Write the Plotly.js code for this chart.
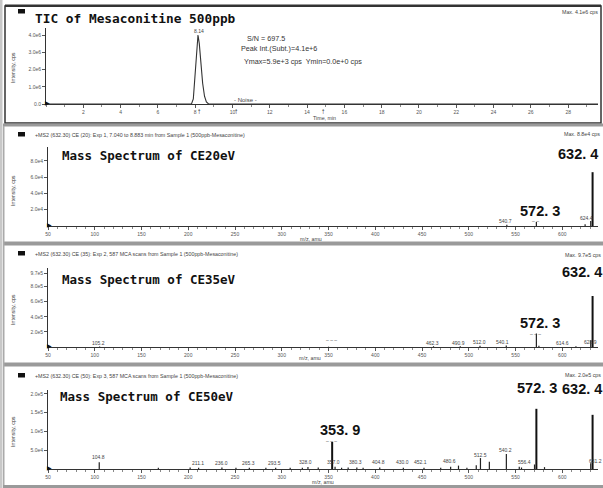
<!DOCTYPE html>
<html><head><meta charset="utf-8">
<script src="https://cdn.plot.ly/plotly-3.0.1.min.js"></script>
<style>html,body{margin:0;padding:0;background:#fff;}#chart{width:603px;height:488px;}</style>
</head><body><div id="chart"></div>
<script>
// ---------- DATA ----------
const ticTime = [0, 2, 4, 6, 7.5, 7.8, 7.9, 8.0, 8.08, 8.15, 8.22, 8.3, 8.4, 8.5, 8.6, 8.72, 9.0, 12, 16, 20, 24, 28, 29.6];
const ticIntensity = [0, 0, 0, 0, 0, 0, 0.3e6, 1.8e6, 3.4e6, 4.0e6, 3.5e6, 2.4e6, 1.2e6, 0.45e6, 0.12e6, 0, 0, 0, 0, 0, 0, 0, 0];
const ticXTicks = [2, 4, 6, 8, 10, 12, 14, 16, 18, 20, 22, 24, 26, 28];
const ticYTicks = [0, 1e6, 2e6, 3e6, 4e6];
const ticYLabels = ["0.0", "1.0e6", "2.0e6", "3.0e6", "4.0e6"];

const mz20 = [540.7, 572.3, 624.4, 630.4, 632.4];
const int20 = [1.5e3, 5e3, 2e3, 6e3, 6.6e4];
const y20Ticks = [2e4, 4e4, 6e4, 8e4];
const y20Labels = ["2.0e4", "4.0e4", "6.0e4", "8.0e4"];

const mz35 = [105.2, 350.0, 462.3, 490.9, 512.0, 540.1, 572.3, 575.0, 614.6, 630.4, 632.4];
const int35 = [5e3, 4e3, 1e4, 1e4, 1.5e4, 2e4, 1.8e5, 1.5e4, 1e4, 9e4, 6.75e5];
const y35Ticks = [2e5, 4e5, 6e5, 8e5, 9.7e5];
const y35Labels = ["2.0e5", "4.0e5", "6.0e5", "8.0e5", "9.7e5"];

const mz50 = [104.8, 168.0, 202.0, 211.1, 236.0, 251.0, 265.3, 283.0, 293.5, 309.0, 322.0, 328.0, 339.0, 353.9, 357.0, 364.0, 371.0, 380.3, 387.0, 404.8, 430.0, 452.1, 470.0, 480.6, 489.0, 498.0, 508.0, 512.5, 522.0, 540.2, 554.0, 556.4, 570.3, 572.3, 581.0, 630.4, 632.4];
const int50 = [1.8e4, 3e3, 4e3, 3e3, 4e3, 3e3, 3e3, 3e3, 3e3, 3e3, 3e3, 5e3, 4e3, 7.2e4, 6e3, 3e3, 4e3, 4e3, 3e3, 4e3, 3e3, 3e3, 3e3, 6e3, 9e3, 3e3, 1e4, 2.9e4, 1.9e4, 4.0e4, 6e3, 4e3, 1.2e4, 1.6e5, 5e3, 1.5e4, 1.44e5];
const y50Ticks = [5e4, 1e5, 1.5e5, 2e5];
const y50Labels = ["5.0e4", "1.0e5", "1.5e5", "2.0e5"];

const mzTicks = [50, 100, 150, 200, 250, 300, 350, 400, 450, 500, 550, 600];

// ---------- HELPERS ----------
const W = 603, H = 488;
const X = px => px / W;
const Y = py => 1 - py / H;

function sticks(mz, inten, keep) {
  const xs = [], ys = [];
  mz.forEach((m, i) => { if (keep(inten[i])) { xs.push(m, m, null); ys.push(0, inten[i], null); } });
  return {x: xs, y: ys};
}

const small = {family: "Liberation Sans, Arial, sans-serif", size: 5, color: "#555"};

function xAxisCfg(domain, range, anchor, tickvals, minorDtick, minorTick0) {
  return {
    domain: domain, range: range, anchor: anchor,
    tickmode: "array", tickvals: tickvals, ticktext: tickvals.map(String),
    ticks: "outside", ticklen: 3, tickcolor: "#555", tickwidth: 1,
    showline: true, linecolor: "#333", linewidth: 1,
    showgrid: false, zeroline: false, tickfont: small,
    minor: {tickmode: "linear", tick0: minorTick0, dtick: minorDtick, ticks: "outside", ticklen: 2, tickcolor: "#888"},
    fixedrange: true
  };
}
function yAxisCfg(domain, range, anchor, tickvals, ticktext) {
  return {
    domain: domain, range: range, anchor: anchor,
    tickmode: "array", tickvals: tickvals, ticktext: ticktext,
    ticks: "outside", ticklen: 3, tickcolor: "#555",
    showline: true, linecolor: "#333", linewidth: 1,
    showgrid: false, zeroline: false, tickfont: small,
    fixedrange: true
  };
}

// ---------- TRACES ----------
const traces = [
  {x: ticTime, y: ticIntensity, type: "scatter", mode: "lines", line: {color: "#333", width: 1.1}, xaxis: "x", yaxis: "y", hoverinfo: "skip"}
];
[[mz20, int20, 6.6e4, "2"], [mz35, int35, 6.75e5, "3"], [mz50, int50, 1.6e5, "4"]].forEach(s => {
  const thin = sticks(s[0], s[1], v => v < 0.3 * s[2]);
  const thick = sticks(s[0], s[1], v => v >= 0.3 * s[2]);
  traces.push({x: thin.x, y: thin.y, type: "scatter", mode: "lines", line: {color: "#222", width: 1.2}, xaxis: "x" + s[3], yaxis: "y" + s[3], hoverinfo: "skip"});
  traces.push({x: thick.x, y: thick.y, type: "scatter", mode: "lines", line: {color: "#111", width: 2}, xaxis: "x" + s[3], yaxis: "y" + s[3], hoverinfo: "skip"});
});

// ---------- ANNOTATIONS ----------
const anns = [];
function ann(text, px, py, o) {
  o = o || {};
  anns.push({text: text, xref: "paper", yref: "paper", x: X(px), y: Y(py), showarrow: false,
    xanchor: o.xa || "center", yanchor: o.ya || "middle", textangle: o.angle || 0,
    font: {family: o.family || "Liberation Sans, Arial, sans-serif", size: o.size || 5, color: o.color || "#444", weight: o.weight || "normal"}});
}
const mono = "DejaVu Sans Mono, monospace";
const boldSans = "Liberation Sans, Arial, sans-serif";

// Titles
ann("TIC of Mesaconitine 500ppb", 33, 19, {xa: "left", family: mono, size: 12.8, weight: "bold", color: "#111"});
ann("Mass Spectrum of CE20eV", 60, 155, {xa: "left", family: mono, size: 12.5, weight: "bold", color: "#111"});
ann("Mass Spectrum of CE35eV", 60, 279, {xa: "left", family: mono, size: 12.5, weight: "bold", color: "#111"});
ann("Mass Spectrum of CE50eV", 58, 396, {xa: "left", family: mono, size: 12.5, weight: "bold", color: "#111"});

// Headers
ann("+MS2 (632.30) CE (20): Exp 1, 7.040 to 8.883 min from Sample 1 (500ppb-Mesaconitine)", 33, 135, {xa: "left", size: 5.3, color: "#444"});
ann("+MS2 (632.30) CE (35): Exp 2, 587 MCA scans from Sample 1 (500ppb-Mesaconitine)", 33, 254, {xa: "left", size: 5.3, color: "#444"});
ann("+MS2 (632.30) CE (50): Exp 3, 587 MCA scans from Sample 1 (500ppb-Mesaconitine)", 33, 376, {xa: "left", size: 5.3, color: "#444"});

// Max labels
ann("Max. 4.1e6 cps", 560, 12, {xa: "left", size: 5.3});
ann("Max. 8.8e4 cps", 562, 134, {xa: "left", size: 5.3});
ann("Max. 9.7e5 cps", 563, 255, {xa: "left", size: 5.3});
ann("Max. 2.0e5 cps", 563, 375, {xa: "left", size: 5.3});

// Axis titles
[68, 191, 310, 432].forEach(cy => ann("Intensity, cps", 13, cy, {angle: -90, size: 5.3}));
ann("Time, min", 324, 118, {size: 5.3});
ann("m/z, amu", 311, 239, {size: 5.3});
ann("m/z, amu", 310, 358, {size: 5.3});
ann("m/z, amu", 323, 482, {size: 5.3});

// TIC panel texts
ann("S/N = 697.5", 245, 38, {xa: "left", size: 7.2, color: "#333"});
ann("Peak Int.(Subt.)=4.1e+6", 239, 49, {xa: "left", size: 7.2, color: "#333"});
ann("Ymax=5.9e+3 cps  Ymin=0.0e+0 cps", 242, 62, {xa: "left", size: 7.2, color: "#333"});
ann("- Noise -", 245, 100, {size: 6, color: "#444"});
ann("8.14", 199, 31, {size: 5});
[199, 236, 323].forEach(px => ann("↑", px, 111, {size: 8, weight: "bold", color: "#222"}));
// origin markers
[[47, 103], [49, 225], [49, 346], [49, 468]].forEach(p => ann("▶", p[0], p[1], {size: 6, color: "#111"}));

// Big peak labels
ann("632. 4", 578, 154, {family: boldSans, size: 14.5, weight: "bold", color: "#111"});
ann("572. 3", 540, 211, {family: boldSans, size: 14.5, weight: "bold", color: "#111"});
ann("632. 4", 582, 272, {family: boldSans, size: 14.5, weight: "bold", color: "#111"});
ann("572. 3", 540, 323, {family: boldSans, size: 14.5, weight: "bold", color: "#111"});
ann("572. 3", 537, 388, {family: boldSans, size: 14.5, weight: "bold", color: "#111"});
ann("632. 4", 582, 389, {family: boldSans, size: 14.5, weight: "bold", color: "#111"});
ann("353. 9", 340, 430, {family: boldSans, size: 14.5, weight: "bold", color: "#111"});

// small peak labels
const smallLabels = [
  ["540.7", 505, 221], ["624.4", 586, 218], ["– –", 535, 221],
  ["105.2", 98, 343], ["462.3", 433, 343], ["490.9", 458, 343], ["512.0", 479, 342], ["540.1", 502, 342], ["614.6", 562, 343], ["628.9", 590, 342], ["– – –", 535, 334], ["– – –", 331, 340],
  ["104.8", 98, 457], ["211.1", 198, 463], ["236.0", 221, 463], ["265.3", 248, 463], ["293.5", 274, 463], ["328.0", 305, 462], ["357.0", 333, 462], ["380.3", 355, 462], ["404.8", 378, 462], ["430.0", 402, 462], ["452.1", 420, 462], ["480.6", 449, 461], ["512.5", 480, 455], ["540.2", 505, 450], ["556.4", 524, 462], ["631.2", 595, 461], ["– – –", 331, 441]
];
smallLabels.forEach(l => ann(l[0], l[1], l[2], {size: 5, color: "#444"}));

// ---------- SHAPES (frames) ----------
const shapes = [];
function rect(x0, y0, x1, y1, fill, lineColor, lw) {
  shapes.push({type: "rect", xref: "paper", yref: "paper", x0: X(x0), x1: X(x1), y0: Y(y1), y1: Y(y0),
    fillcolor: fill || "rgba(0,0,0,0)", line: {color: lineColor || "rgba(0,0,0,0)", width: lw || 0}, layer: "below"});
}
rect(0, 0, 2.5, 488, "#c8c8c8");
rect(5, 6, 601, 123, null, "#333", 1.5);
rect(5, 4.5, 601, 7, "#333");
rect(3, 123.5, 603, 126.5, "#9a9a9a");
rect(3, 241.5, 603, 245.5, "#9a9a9a");
rect(3, 362.5, 603, 366.5, "#9a9a9a");
rect(3, 485, 603, 488, "#9a9a9a");
rect(3, 126, 4.5, 485, "#aaa");
[[18, 9], [18, 132], [18, 251], [18, 373]].forEach(p => rect(p[0], p[1], p[0] + 7, p[1] + 4.5, "#111"));

// ---------- LAYOUT ----------
const specX = [X(48), X(598)];
const specRange = [50, 638.2];
const layout = {
  width: W, height: H, margin: {l: 0, r: 0, t: 0, b: 0},
  paper_bgcolor: "#fff", plot_bgcolor: "rgba(0,0,0,0)", showlegend: false,
  xaxis: xAxisCfg([X(46), X(598)], [0, 29.6], "y", ticXTicks, 1, 0),
  yaxis: yAxisCfg([Y(104), Y(28)], [0, 4.406e6], "x", ticYTicks, ticYLabels),
  xaxis2: xAxisCfg(specX, specRange, "y2", mzTicks, 10, 50),
  yaxis2: yAxisCfg([Y(226), Y(147)], [0, 9.69e4], "x2", y20Ticks, y20Labels),
  xaxis3: xAxisCfg(specX, specRange, "y3", mzTicks, 10, 50),
  yaxis3: yAxisCfg([Y(347), Y(268)], [0, 1.046e6], "x3", y35Ticks, y35Labels),
  xaxis4: xAxisCfg(specX, specRange, "y4", mzTicks, 10, 50),
  yaxis4: yAxisCfg([Y(469), Y(390)], [0, 2.1e5], "x4", y50Ticks, y50Labels),
  annotations: anns, shapes: shapes
};
Plotly.newPlot("chart", traces, layout, {displayModeBar: false, staticPlot: true});
</script></body></html>
